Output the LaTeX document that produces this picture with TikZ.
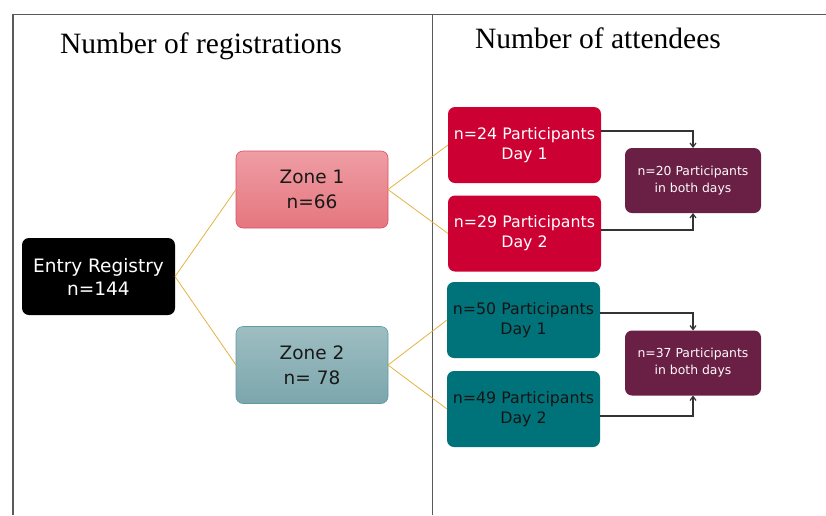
\documentclass[tikz,border=0pt]{standalone}
\usepackage{fontspec}
\setmainfont{Liberation Serif}
\newfontfamily\boxfont{DejaVu Sans}
\usetikzlibrary{arrows.meta}
\definecolor{framegray}{HTML}{5A5A5A}
\definecolor{linkgold}{HTML}{E3B341}
\definecolor{pinktop}{HTML}{EF9DA4}
\definecolor{pinkbot}{HTML}{E5767F}
\definecolor{pinkedge}{HTML}{DC4F66}
\definecolor{greytop}{HTML}{9EBEC2}
\definecolor{greybot}{HTML}{7BA6AC}
\definecolor{greyedge}{HTML}{5E9CA3}
\definecolor{dayred}{HTML}{CC0033}
\definecolor{dayteal}{HTML}{00737A}
\definecolor{bothpurple}{HTML}{6A1F45}
\tikzset{box/.style = {shape=rectangle, rounded corners=7pt, align=center,
inner sep=0pt, outer sep=0pt}}
\tikzset{entrybox/.style = {box, fill=black, text=white, minimum width=153pt,
minimum height=77pt, font=\boxfont\fontsize{18.5}{23}\selectfont}}
\tikzset{zonebox/.style = {box, minimum width=152pt, minimum height=77pt,
text=black!90, font=\boxfont\fontsize{18.5}{25}\selectfont}}
\tikzset{daybox/.style = {box, minimum width=153pt, minimum height=76pt,
font=\boxfont\fontsize{15.8}{20}\selectfont}}
\tikzset{bothbox/.style = {box, fill=bothpurple, text=white!92!pink,
minimum width=136pt, minimum height=65pt,
font=\boxfont\fontsize{12.4}{17}\selectfont}}
\tikzset{link/.style = {draw=linkgold, line width=0.8pt}}
\tikzset{flow/.style = {draw=black!80, line width=1.2pt,
-{Straight Barb[length=4pt,width=6pt]}}}

\begin{document}
\begin{tikzpicture}[x=1pt,y=-1pt]
                \useasboundingbox (0,0) rectangle (826,515);
                % frame
                \draw[framegray, line width=1.6pt] (12.7,515) -- (12.7,14.3) -- (826,14.3);
                \draw[framegray, line width=1.6pt] (432.5,14.3) -- (432.5,515);
                \node[anchor=base, font=\fontsize{29.5}{35}\selectfont] (regs) at (201,53) {Number of registrations};
                \node[anchor=base, font=\fontsize{29.5}{35}\selectfont] (atts) at (598,48) {Number of attendees};

                \node[entrybox] (E) at (98.5,276.5) {Entry Registry\\n=144};
                \node[zonebox, top color=pinktop, bottom color=pinkbot, draw=pinkedge, line width=0.6pt] (Z1) at (312,189.5) {Zone 1\\n=66};
                \node[zonebox, top color=greytop, bottom color=greybot, draw=greyedge, line width=0.6pt] (Z2) at (312,365) {Zone 2\\n= 78};

                \node[daybox, fill=dayred, text=white] (R1) at (524.5,145) {n=24 Participants\\Day 1};
                \node[daybox, fill=dayred, text=white] (R2) at (524.5,233.5) {n=29 Participants\\Day 2};
                \node[daybox, fill=dayteal, text=black!92] (T1) at (523.5,320) {n=50 Participants\\Day 1};
                \node[daybox, fill=dayteal, text=black!92] (T2) at (523.5,409) {n=49 Participants\\Day 2};

                \node[bothbox] (B1) at (693,180.5) {n=20 Participants\\in both days};
                \node[bothbox] (B2) at (693,363) {n=37 Participants\\in both days};

                \draw[link] (E.east) -- (Z1.west);
                \draw[link] (E.east) -- (Z2.west);
                \draw[link] (Z1.east) -- (R1.west);
                \draw[link] (Z1.east) -- (R2.west);
                \draw[link] (Z2.east) -- (T1.west);
                \draw[link] (Z2.east) -- (T2.west);

                \draw[flow] ([yshift=14pt]R1.east) -| (B1.north);
                \draw[flow] ([yshift=3.5pt]R2.east) -| (B1.south);
                \draw[flow] ([yshift=7pt]T1.east) -| (B2.north);
                \draw[flow] ([yshift=-7pt]T2.east) -| (B2.south);
            \end{tikzpicture}
\end{document}
